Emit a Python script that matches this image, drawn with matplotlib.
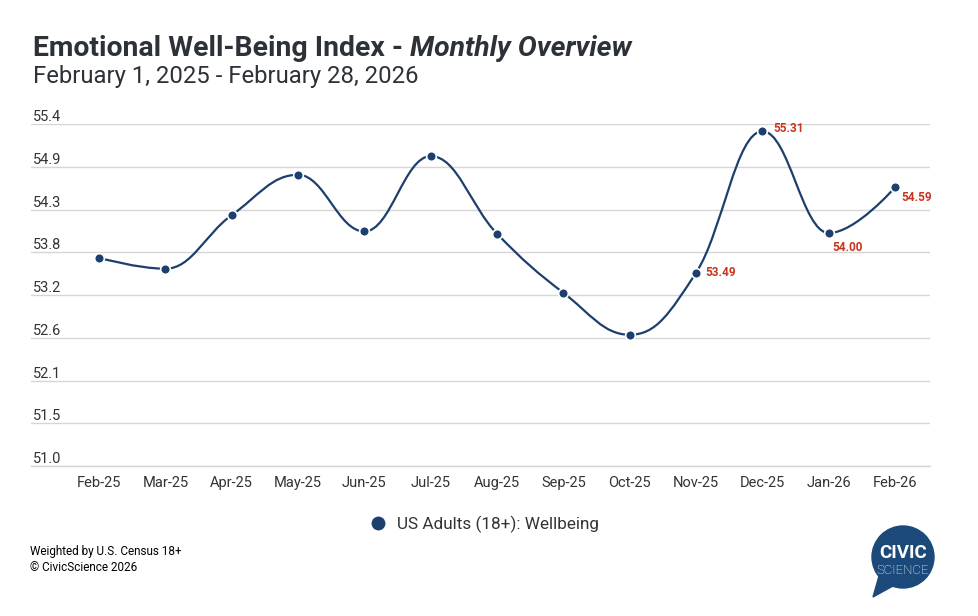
## Emotional Well-Being Index, monthly overview (CivicScience style chart)

import matplotlib
matplotlib.use('Agg')
import matplotlib.pyplot as plt
from matplotlib.path import Path
from matplotlib.patches import PathPatch, Circle, Polygon
import numpy as np

plt.rcParams['font.family'] = ['Roboto', 'DejaVu Sans']

# data
months    = ['Feb-25', 'Mar-25', 'Apr-25', 'May-25', 'Jun-25', 'Jul-25', 'Aug-25',
             'Sep-25', 'Oct-25', 'Nov-25', 'Dec-25', 'Jan-26', 'Feb-26']
wellbeing = [53.68, 53.54, 54.23, 54.75, 54.02, 54.99, 53.99,
             53.23, 52.69, 53.49, 55.31, 54.00, 54.59]
y_ticks   = np.linspace(51.0, 55.4, 9)
y_labels  = ['51.0', '51.5', '52.1', '52.6', '53.2', '53.8', '54.3', '54.9', '55.4']
series_name = 'US Adults (18+): Wellbeing'
labelled  = [9, 10, 11, 12]   # points that carry a value label

navy = '#1d3f6e'
red  = '#c7361f'
grey_text = '#333333'


def spline_path(xs, ys, smoothing=1.5):
    # cubic bezier spline the same way highcharts builds it
    n = len(xs)
    left = [(xs[i], ys[i]) for i in range(n)]
    right = [(xs[i], ys[i]) for i in range(n)]
    d = smoothing + 1
    for i in range(1, n - 1):
        x, y = xs[i], ys[i]
        lx = (smoothing * x + xs[i-1]) / d
        ly = (smoothing * y + ys[i-1]) / d
        rx = (smoothing * x + xs[i+1]) / d
        ry = (smoothing * y + ys[i+1]) / d
        corr = (ry - ly) * (rx - x) / (rx - lx) + y - ry
        ly += corr
        ry += corr
        if ly > ys[i-1] and ly > y:
            ly = max(ys[i-1], y); ry = 2 * y - ly
        elif ly < ys[i-1] and ly < y:
            ly = min(ys[i-1], y); ry = 2 * y - ly
        if ry > ys[i+1] and ry > y:
            ry = max(ys[i+1], y); ly = 2 * y - ry
        elif ry < ys[i+1] and ry < y:
            ry = min(ys[i+1], y); ly = 2 * y - ry
        left[i] = (lx, ly)
        right[i] = (rx, ry)
    verts = [(xs[0], ys[0])]
    codes = [Path.MOVETO]
    for i in range(1, n):
        verts += [right[i-1], left[i], (xs[i], ys[i])]
        codes += [Path.CURVE4] * 3
    return Path(verts, codes)


W, H = 979, 616
fig = plt.figure(figsize=(W / 100, H / 100), dpi=100)
ax = fig.add_axes([31 / W, 1 - 466 / H, (930 - 31) / W, (466 - 124.3) / H])

xs = np.arange(len(months))
ax.add_patch(PathPatch(spline_path(xs, wellbeing), fill=False, edgecolor=navy,
                       lw=1.6, zorder=2))
ax.plot(xs, wellbeing, 'o', ms=7, mfc=navy, mec='white', mew=1.2, zorder=3,
        label=series_name)

offsets = {9: (9, 0), 10: (11, 3), 11: (4, -14), 12: (6, -10)}
for i in labelled:
    ax.annotate(f'{wellbeing[i]:.2f}', (xs[i], wellbeing[i]), xytext=offsets[i],
                textcoords='offset pixels', color=red, fontsize=8.5,
                fontweight='bold', va='center', ha='left')

ax.set_xlim(-1.025, 12.525)
ax.set_ylim(51.0, 55.4)
ax.set_yticks(y_ticks)
ax.set_yticklabels([])
ax.grid(axis='y', color='#d6d6d6', lw=1)
ax.set_axisbelow(True)
for v, lab in zip(y_ticks, y_labels):
    ax.text(-1.0, v, lab, transform=ax.transData, va='bottom', ha='left',
            fontsize=10.5, color=grey_text)
ax.set_xticks(xs)
ax.set_xticklabels(months, fontsize=10.5, color=grey_text)
ax.tick_params(axis='both', length=0)
ax.tick_params(axis='x', pad=7)
for s in ax.spines.values():
    s.set_visible(False)
ax.spines['bottom'].set_visible(True)
ax.spines['bottom'].set_color('#d6d6d6')
ax.spines['bottom'].set_linewidth(1)

fig.legend(loc='center', bbox_to_anchor=(480 / W, 1 - 524 / H), frameon=False,
           fontsize=12.3, markerscale=1.6, handletextpad=0.15, labelcolor=grey_text)

# title in two styles
t1 = fig.text(33 / W, 1 - 56 / H, 'Emotional Well-Being Index - ', fontsize=20.4,
              fontweight='bold', color='#2d3138', va='baseline')
fig.canvas.draw()
bb = t1.get_window_extent(fig.canvas.get_renderer())
fig.text(bb.x1 / W, 1 - 56 / H, 'Monthly Overview', fontsize=20.4, fontweight='bold',
         fontstyle='italic', color='#2d3138', va='baseline')
fig.text(33 / W, 1 - 83 / H, 'February 1, 2025 - February 28, 2026', fontsize=17.2,
         color='#2d3138', va='baseline')

fig.text(30 / W, 1 - 555 / H, 'Weighted by U.S. Census 18+', fontsize=8.5, color='black')
fig.text(30 / W, 1 - 571 / H, '\u00a9 CivicScience 2026', fontsize=8.5, color='black')

# logo bubble
lax = fig.add_axes([865 / W, 1 - 600 / H, 75 / W, 80 / H])
lax.set_xlim(0, 75)
lax.set_ylim(0, 80)
lax.axis('off')
logo = '#1b4a7a'
lax.add_patch(Circle((38, 43), 31, color=logo))
lax.add_patch(Polygon([(14, 24), (8, 3), (28, 14)], color=logo))
lax.text(38, 47, 'CIVIC', color='white', fontsize=13.5, fontweight='bold',
         ha='center', va='center')
lax.text(38, 29, 'SCIENCE', color='white', fontsize=9.5, fontweight='light',
         ha='center', va='center')

fig.savefig('out.png', dpi=100)
